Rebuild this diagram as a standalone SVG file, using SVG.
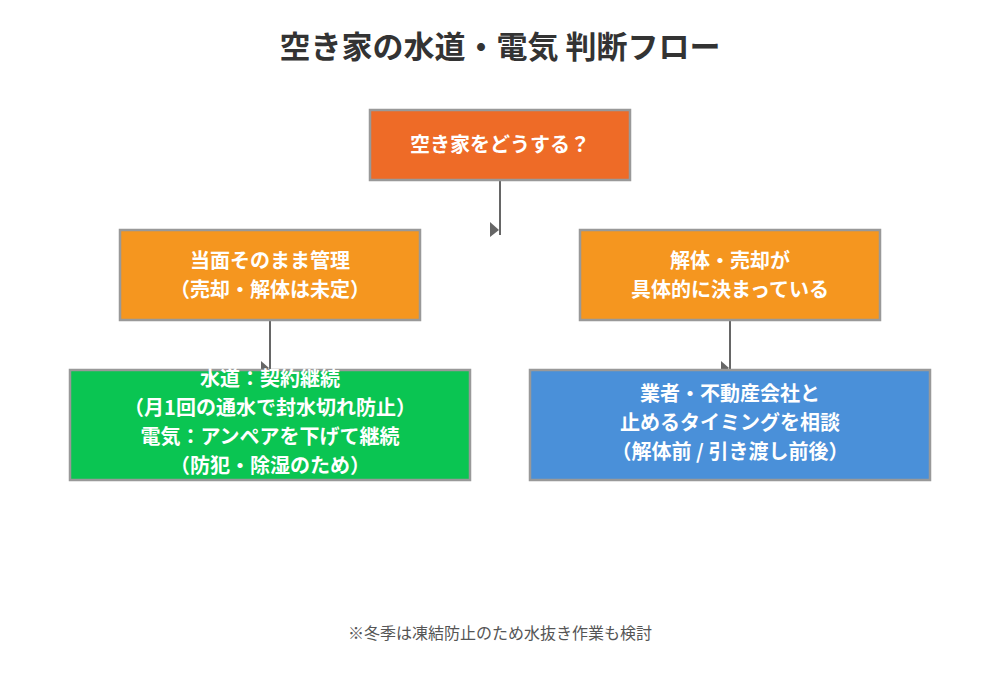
<svg xmlns="http://www.w3.org/2000/svg" width="1000" height="700" viewBox="0 0 1000 700">
<style>
text{font-family:"Noto Sans CJK JP","Noto Sans",sans-serif;text-anchor:middle}
.t{font-size:31px;font-weight:bold;fill:#333}
.n{font-size:20px;font-weight:bold;fill:#fff}
.b{stroke:#999;stroke-width:2.5}
.c{stroke:#666;stroke-width:2;fill:none}
.a{fill:#666}
.f{font-size:16px;fill:#555}
</style>
<rect width="1000" height="700" fill="#fff"/>
<text class="t" x="500" y="58">空き家の水道・電気 判断フロー</text>
<g id="connectors">
<path class="c" d="M500 180V235"/><polygon class="a" points="490,222 499,230 490,237"/>
<path class="c" d="M270 320V372"/><polygon class="a" points="261,361 269,368 261,374"/>
<path class="c" d="M730 320V372"/><polygon class="a" points="721,361 729,368 721,374"/>
</g>
<g id="start"><rect class="b" x="370" y="110" width="260" height="70" fill="#ee6b27"/><text class="n" x="500" y="152">空き家をどうする？</text></g>
<g id="keep"><rect class="b" x="120" y="230" width="300" height="90" fill="#f5961f"/><text class="n" x="270" y="268">当面そのまま管理</text><text class="n" x="270" y="297">（売却・解体は未定）</text></g>
<g id="decided"><rect class="b" x="580" y="230" width="300" height="90" fill="#f5961f"/><text class="n" x="730" y="268">解体・売却が</text><text class="n" x="730" y="297">具体的に決まっている</text></g>
<g id="continue"><rect class="b" x="70" y="370" width="400" height="110" fill="#0ac552"/>
<text class="n" x="270" y="386">水道：契約継続</text><text class="n" x="270" y="415">（月1回の通水で封水切れ防止）</text><text class="n" x="270" y="444">電気：アンペアを下げて継続</text><text class="n" x="270" y="473">（防犯・除湿のため）</text></g>
<g id="consult"><rect class="b" x="530" y="370" width="400" height="110" fill="#4a90d9"/>
<text class="n" x="730" y="401">業者・不動産会社と</text><text class="n" x="730" y="430">止めるタイミングを相談</text><text class="n" x="730" y="459">（解体前 / 引き渡し前後）</text></g>
<text class="f" x="500" y="639">※冬季は凍結防止のため水抜き作業も検討</text>
</svg>
